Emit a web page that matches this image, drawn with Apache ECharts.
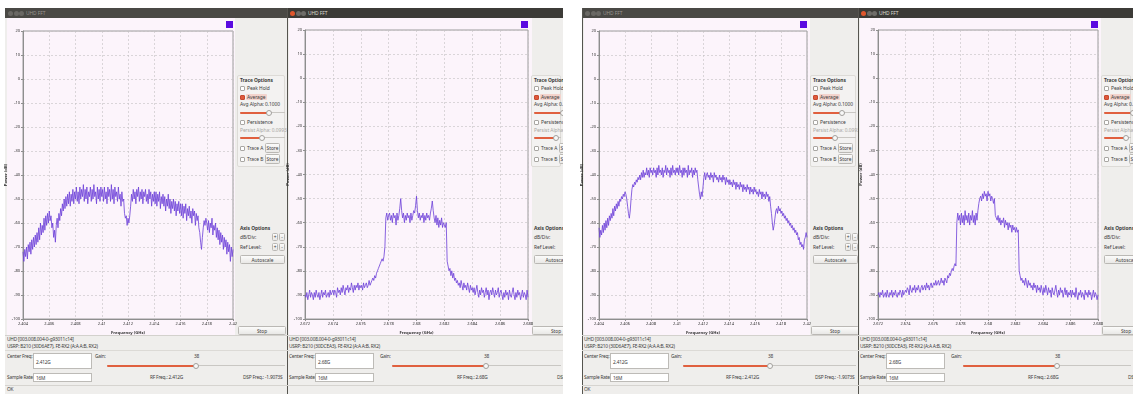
<!DOCTYPE html>
<html>
<head>
<meta charset="utf-8">
<title>UHD FFT</title>
<script src="https://cdn.jsdelivr.net/npm/echarts@6/dist/echarts.min.js"></script>
<style>
body { margin: 0; width: 1133px; height: 394px; overflow: hidden; background: #fff; position: relative;
  font-family: "Noto Sans", "DejaVu Sans", sans-serif; color: #3b3b3b; }
.win { position: absolute; top: 8px; height: 386px; background: #efeeec; overflow: hidden; }
.t { position: absolute; font-size: 4.9px; line-height: 6px; white-space: nowrap; color: #3b3b3b; letter-spacing: -0.05px; }
.s { font-size: 4.8px; letter-spacing: -0.2px; }
.b { font-weight: bold; }
.gray { color: #a9a7a3; }
.abs { position: absolute; box-sizing: border-box; }
.cb { border: 1px solid #a9a7a3; background: #fff; border-radius: 1px; }
.cb.on { background: #df5a3c; border-color: #c54a2f; }
.btn { border: 1px solid #bab8b4; background: linear-gradient(#fbfbfa, #e9e8e6); border-radius: 1.5px;
  font-size: 4.8px; line-height: 8px; text-align: center; color: #3b3b3b; white-space: nowrap; overflow: hidden; }
.field { border: 1px solid #bdbbb7; background: #fff; }
#chart { position: absolute; left: 0; top: 0; width: 1133px; height: 394px; z-index: 5; }
</style>
</head>
<body>
<div id="chart"></div>
<script>
// tick labels
var freqTicks24 = [2.404, 2.406, 2.408, 2.41, 2.412, 2.414, 2.416, 2.418, 2.42];
var freqTicks268 = [2.672, 2.674, 2.676, 2.678, 2.68, 2.682, 2.684, 2.686, 2.688];
var powerTicks = [20, 10, 0, -10, -20, -30, -40, -50, -60, -70, -80, -90, -100];

// FFT traces (dB), 241 bins across each span
var trace1 = [
  -72,-76,-71,-74,-70,-75,-69,-72,-68,-73,-67,-71,-66,-70,-65,-69,-64,-68,-62,-67,-60,-65,-61,-64,-58,-63,-57,-61,-56,-60,-55,
  -59,-57,-62,-60,-66,-63,-68,-61,-58,-62,-56,-59,-54,-57,-52,-55,-50,-54,-49,-53,-48,-52,-47,-53,-48,-51,-46,-52,-47,-50,
  -45,-51,-47,-52,-45,-50,-46,-49,-44,-51,-46,-50,-45,-52,-47,-49,-45,-51,-46,-50,-44,-49,-47,-52,-45,-50,-46,-51,-45,-49,
  -46,-51,-45,-50,-47,-52,-45,-49,-46,-51,-44,-50,-46,-52,-45,-49,-47,-51,-45,-50,-48,-53,-47,-51,-50,-56,-58,-57,-61,-58,
  -60,-57,-53,-48,-51,-46,-50,-47,-52,-46,-49,-45,-51,-47,-50,-46,-52,-47,-49,-46,-51,-48,-52,-46,-50,-47,-53,-48,-51,-47,
  -52,-47,-53,-48,-51,-47,-54,-49,-52,-48,-53,-49,-55,-50,-53,-48,-54,-50,-56,-51,-54,-50,-55,-51,-57,-52,-55,-51,-56,-52,
  -57,-52,-58,-53,-56,-52,-59,-54,-57,-53,-58,-55,-60,-54,-57,-55,-61,-56,-59,-57,-62,-64,-68,-71,-66,-62,-59,-61,-58,-60,
  -63,-59,-64,-60,-62,-58,-65,-61,-63,-60,-66,-62,-67,-63,-69,-64,-68,-65,-71,-66,-70,-67,-73,-68,-72,-69,-76,-70,-74,-71];
var trace2 = [
  -90,-91,-89,-92,-90,-88,-91,-89,-90,-92,-89,-91,-88,-90,-91,-89,-92,-90,-88,-91,-89,-90,-88,-91,-90,-89,-91,-88,-90,-89,-88,
  -90,-88,-89,-91,-87,-89,-88,-90,-87,-89,-86,-88,-90,-87,-88,-86,-89,-87,-88,-85,-87,-89,-86,-88,-86,-87,-85,-88,-86,-87,
  -86,-88,-85,-87,-86,-85,-87,-86,-84,-86,-85,-84,-83,-84,-82,-83,-81,-80,-79,-78,-77,-76,-75,-76,-74,-70,-58,-56,-59,-57,
  -56,-59,-57,-60,-56,-58,-57,-61,-56,-59,-57,-54,-50,-55,-58,-56,-60,-57,-59,-56,-58,-57,-60,-56,-59,-57,-55,-56,-53,-49,
  -55,-58,-56,-59,-57,-58,-56,-60,-57,-59,-56,-58,-57,-59,-56,-54,-51,-55,-58,-60,-57,-61,-58,-62,-59,-61,-58,-62,-60,-61,
  -62,-60,-76,-78,-80,-79,-82,-80,-83,-81,-84,-83,-85,-84,-86,-85,-87,-84,-86,-88,-85,-87,-86,-88,-85,-87,-89,-86,-88,-87,
  -89,-87,-90,-88,-86,-89,-91,-88,-90,-87,-89,-88,-91,-89,-87,-90,-88,-92,-89,-88,-90,-87,-89,-91,-88,-90,-89,-87,-91,-89,
  -88,-90,-92,-89,-91,-88,-90,-89,-92,-88,-90,-91,-89,-87,-90,-92,-89,-91,-88,-90,-89,-92,-90,-88,-91,-89,-90,-92,-88,-91];
var trace3 = [
  -62,-66,-63,-65,-61,-64,-60,-63,-59,-62,-58,-61,-57,-59,-56,-58,-54,-57,-53,-55,-52,-54,-51,-53,-50,-51,-49,-50,-48,-49,-47,
  -48,-50,-53,-56,-58,-55,-50,-46,-44,-45,-43,-44,-42,-43,-41,-42,-40,-42,-39,-41,-38,-41,-39,-40,-37,-40,-38,-41,-37,-39,
  -38,-40,-37,-39,-38,-41,-37,-40,-36,-39,-38,-40,-37,-41,-38,-39,-36,-40,-37,-39,-38,-41,-37,-40,-36,-39,-38,-40,-37,-39,
  -37,-40,-36,-39,-38,-41,-37,-40,-37,-39,-38,-41,-36,-40,-38,-39,-37,-41,-38,-40,-37,-39,-38,-42,-45,-48,-50,-47,-49,-45,
  -41,-39,-42,-40,-39,-41,-40,-42,-39,-41,-40,-43,-39,-41,-40,-42,-41,-43,-40,-42,-41,-43,-40,-42,-41,-44,-41,-43,-42,-44,
  -42,-44,-43,-45,-42,-44,-43,-46,-43,-45,-44,-46,-43,-45,-44,-47,-44,-46,-45,-47,-44,-46,-45,-48,-45,-47,-46,-48,-45,-47,
  -46,-48,-47,-49,-46,-48,-47,-50,-47,-49,-48,-50,-47,-49,-48,-51,-49,-53,-56,-60,-63,-61,-58,-55,-54,-56,-53,-55,-54,-56,
  -55,-57,-56,-58,-57,-59,-58,-60,-59,-61,-60,-62,-61,-63,-62,-64,-63,-65,-64,-67,-66,-69,-68,-70,-69,-71,-67,-66,-64,-66];
var trace4 = [
  -90,-89,-91,-89,-90,-88,-91,-90,-89,-91,-88,-90,-91,-89,-90,-88,-91,-89,-90,-88,-90,-91,-89,-90,-88,-89,-91,-88,-90,-89,-88,
  -89,-87,-88,-90,-86,-88,-89,-87,-88,-86,-89,-87,-88,-86,-88,-89,-87,-86,-88,-87,-86,-88,-85,-87,-86,-88,-86,-85,-87,-86,
  -85,-86,-84,-86,-85,-84,-86,-85,-83,-85,-84,-86,-83,-84,-85,-82,-83,-81,-82,-80,-79,-80,-78,-77,-78,-60,-56,-59,-57,-61,
  -56,-60,-57,-61,-55,-59,-57,-60,-56,-61,-57,-59,-55,-60,-57,-61,-56,-59,-55,-52,-50,-49,-51,-48,-50,-47,-49,-48,-51,-47,
  -49,-48,-51,-49,-50,-52,-50,-57,-58,-59,-57,-60,-58,-61,-59,-60,-58,-62,-59,-61,-60,-63,-60,-62,-61,-64,-61,-63,-62,-64,
  -62,-64,-63,-80,-82,-84,-83,-85,-84,-86,-83,-85,-87,-84,-86,-85,-87,-86,-88,-85,-87,-86,-89,-86,-88,-87,-89,-86,-88,-90,
  -87,-89,-86,-88,-90,-87,-89,-88,-91,-87,-89,-90,-88,-86,-89,-91,-88,-90,-87,-89,-88,-91,-89,-87,-90,-88,-91,-89,-90,-88,
  -91,-88,-90,-89,-91,-87,-90,-92,-89,-90,-88,-91,-89,-90,-92,-88,-90,-89,-91,-88,-90,-89,-92,-90,-88,-91,-89,-90,-92,-90];

var usrpA = 'USRP: B210 (30D6AE7), FE-RX2 (A:A A:B, RX2)';
var usrpB = 'USRP: B210 (30DCEA3), FE-RX2 (A:A A:B, RX2)';

// window geometry (page px)
var wins = [
  { l: 5, r: 287, pinkR: 235, px: 240, frame: [23, 31, 210, 288], ticks: freqTicks24, data: trace1, active: false,
    usrp: usrpA, cf: '2.412G', gainX: 107, knob: 196, rf: 150, rfText: 'RF Freq.: 2.412G', dsp: 243, ok: true },
  { l: 287, r: 563, pinkR: 532, px: 534, frame: [305, 30, 223, 289], ticks: freqTicks268, data: trace2, active: true,
    usrp: usrpB, cf: '2.68G', gainX: 392, knob: 486, rf: 457, rfText: 'RF Freq.: 2.68G', dsp: 557, ok: false },
  { l: 582, r: 858, pinkR: 810, px: 813, frame: [599, 31, 208, 288], ticks: freqTicks24, data: trace3, active: false,
    usrp: usrpA, cf: '2.412G', gainX: 683, knob: 770, rf: 726, rfText: 'RF Freq.: 2.412G', dsp: 815, ok: true },
  { l: 858, r: 1133, pinkR: 1101, px: 1104, frame: [878, 30, 220, 289], ticks: freqTicks268, data: trace4, active: true,
    usrp: usrpB, cf: '2.68G', gainX: 963, knob: 1057, rf: 1028, rfText: 'RF Freq.: 2.68G', dsp: 1128, ok: false }
];

function put(win, cls, x, y, w, h, css, text) {
  var d = document.createElement('div');
  d.className = cls;
  d.style.left = (x - win.w.l) + 'px';
  d.style.top = (y - 8) + 'px';
  if (w != null) d.style.width = w + 'px';
  if (h != null) d.style.height = h + 'px';
  if (css) d.style.cssText += css;
  if (text != null) d.textContent = text;
  win.el.appendChild(d);
  return d;
}
function txt(win, x, yc, s, extra) {
  return put(win, 't ' + (extra || ''), x, yc - 3, null, null, '', s);
}
function slider(win, x0, x1, knob, y) {
  put(win, 'abs', x0, y, x1 - x0, 1, 'background:#c9c7c3');
  put(win, 'abs', x0, y - 0.5, knob - x0, 2, 'background:#e0603f;border-radius:1px');
  put(win, 'abs', knob - 3, y - 2.5, 6, 6, 'background:#f8f8f7;border:1px solid #a2a09c;border-radius:50%');
}

wins.forEach(function (w) {
  var el = document.createElement('div');
  el.className = 'win';
  el.style.left = w.l + 'px';
  el.style.width = (w.r - w.l) + 'px';
  document.body.appendChild(el);
  var win = { w: w, el: el };
  var px = w.px;

  // title bar
  put(win, 'abs', w.l, 8, w.r - w.l, 10, 'background:' + (w.active ? '#3c3b37' : '#4a4945'));
  var bc = w.active ? ['#e0572e', '#6f6d69', '#6f6d69'] : ['#6a6864', '#6a6864', '#6a6864'];
  for (var i = 0; i < 3; i++) {
    put(win, 'abs', w.l + 3 + i * 5.5, 10.5, 5, 5, 'border-radius:50%;background:' + bc[i]);
  }
  txt(win, w.l + 21, 13, 'UHD FFT', '').style.color = w.active ? '#dfdbd2' : '#99958f';
  if (w.l > 100) put(win, 'abs', w.l, 8, 1, 386, 'background:#55544f');

  // plot canvas background and colour square
  put(win, 'abs', w.l + 2, 18, w.pinkR - w.l - 2, 317, 'background:#fcf4fb');
  var fr = w.frame[0] + w.frame[2];
  put(win, 'abs', fr - 7, 21, 7, 7, 'background:#5a0ae0');

  // trace options
  put(win, 'abs', px - 3, 75, w.r - px + 1, 92, 'border:1px solid #dddbd7;background:#f3f2f1;border-radius:2px');
  txt(win, px, 80, 'Trace Options', 'b');
  put(win, 'abs cb', px, 85.5, 5, 5);
  txt(win, px + 7, 88, 'Peak Hold');
  put(win, 'abs cb on', px, 94.5, 5, 5);
  put(win, 'abs', px + 6, 94, 21, 6, 'background:#f3d3cc;border-radius:1px');
  txt(win, px + 7, 97, 'Average');
  txt(win, px, 104, 'Avg Alpha: 0.1000');
  slider(win, px, w.r - 2, px + 29, 112);
  put(win, 'abs cb', px, 119.5, 5, 5);
  txt(win, px + 7, 122, 'Persistence');
  txt(win, px, 130, 'Persist Alpha: 0.0993', 'gray');
  slider(win, px, w.r - 2, px + 22, 137);
  put(win, 'abs cb', px, 145.5, 5, 5);
  txt(win, px + 7, 148, 'Trace A');
  put(win, 'abs btn', px + 25, 143, 15, 10, '', 'Store');
  put(win, 'abs cb', px, 156.5, 5, 5);
  txt(win, px + 7, 159, 'Trace B');
  put(win, 'abs btn', px + 25, 154, 15, 10, '', 'Store');

  // axis options
  txt(win, px, 228, 'Axis Options', 'b');
  txt(win, px, 237, 'dB/Div:');
  put(win, 'abs btn', px + 32, 233, 6, 8, 'line-height:6px', '+');
  put(win, 'abs btn', px + 39, 233, 6, 8, 'line-height:6px', '-');
  txt(win, px, 247, 'Ref Level:');
  put(win, 'abs btn', px + 32, 243, 6, 8, 'line-height:6px', '+');
  put(win, 'abs btn', px + 39, 243, 6, 8, 'line-height:6px', '-');
  put(win, 'abs btn', px, 255, 45, 9, '', 'Autoscale');
  put(win, 'abs btn', px - 2, 326, 48, 9, '', 'Stop');

  // bottom panel
  var ox = w.l + 2;
  put(win, 'abs', w.l, 335, w.r - w.l, 1, 'background:#d3d1cd');
  txt(win, ox, 339, 'UHD [003.008.004-0-g93011c14]', 's');
  txt(win, ox, 346, w.usrp, 's');
  put(win, 'abs', w.l, 350, w.r - w.l, 1, 'background:#dcdad6');
  txt(win, ox, 356, 'Center Freq:', 's');
  put(win, 'abs field', ox + 26, 353, 59, 16);
  txt(win, ox + 29, 362, w.cf, 's');
  txt(win, w.gainX - 12, 356, 'Gain:', 's');
  txt(win, w.knob - 2, 356, '38', 's');
  slider(win, w.gainX, w.r - 2, w.knob, 365);
  txt(win, ox, 377, 'Sample Rate:', 's');
  put(win, 'abs field', ox + 26, 373, 59, 9);
  txt(win, ox + 29, 377.5, '16M', 's');
  txt(win, w.rf, 377, w.rfText, 's');
  txt(win, w.dsp, 377, 'DSP Freq.: -1.9073S', 's');
  put(win, 'abs', w.l, 385, w.r - w.l, 1, 'background:#d6d4d0');
  if (w.ok) txt(win, ox, 389, 'OK', 's');
});

// charts
var chart = echarts.init(document.getElementById('chart'));
var grids = [], xAxes = [], yAxes = [], series = [];
wins.forEach(function (w, k) {
  var t = w.ticks;
  var f0 = t[0], f1 = t[t.length - 1];
  grids.push({ left: w.frame[0], top: w.frame[1], width: w.frame[2], height: w.frame[3],
    show: true, borderColor: '#9c9c9c', borderWidth: 1 });
  xAxes.push({
    type: 'value', gridIndex: k, min: f0, max: f1, interval: +(t[1] - t[0]).toFixed(3),
    name: 'Frequency (GHz)', nameLocation: 'middle', nameGap: 9,
    nameTextStyle: { fontSize: 4.2, fontWeight: 'bold', color: '#333' },
    axisLine: { onZero: false, lineStyle: { color: '#8e8e8e' } },
    axisTick: { show: true, length: 2, lineStyle: { color: '#8e8e8e' } },
    axisLabel: { fontSize: 4, color: '#333', margin: 3, showMaxLabel: true, showMinLabel: true },
    splitLine: { show: true, lineStyle: { color: '#c4c0c4', width: 0.6, type: [2, 2] } }
  });
  yAxes.push({
    type: 'value', gridIndex: k, min: powerTicks[powerTicks.length - 1], max: powerTicks[0], interval: 10,
    name: 'Power (dB)', nameLocation: 'middle', nameGap: 13, nameRotate: 90,
    nameTextStyle: { fontSize: 4.2, fontWeight: 'bold', color: '#333' },
    axisLine: { show: true, onZero: false, lineStyle: { color: '#8e8e8e' } },
    axisTick: { show: true, length: 2, lineStyle: { color: '#8e8e8e' } },
    axisLabel: { fontSize: 4, color: '#333', margin: 3 },
    splitLine: { show: true, lineStyle: { color: '#c4c0c4', width: 0.6, type: [2, 2] } }
  });
  var n = w.data.length;
  series.push({
    type: 'line', xAxisIndex: k, yAxisIndex: k, showSymbol: false, clip: true,
    lineStyle: { color: '#6b3dd8', width: 0.8 },
    data: w.data.map(function (v, i) { return [f0 + (f1 - f0) * i / (n - 1), v]; })
  });
});

chart.setOption({
  animation: false,
  textStyle: { fontFamily: 'Noto Sans' },
  grid: grids,
  xAxis: xAxes,
  yAxis: yAxes,
  series: series
});
</script>
</body>
</html>
